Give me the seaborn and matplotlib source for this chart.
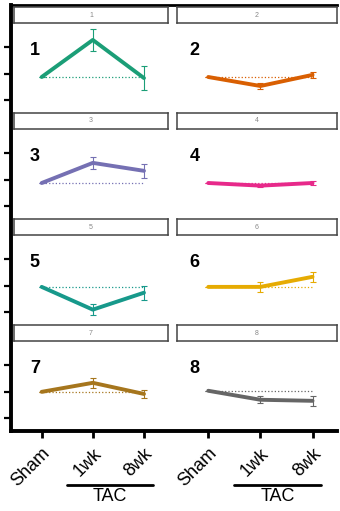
import numpy as np
import pandas as pd
import seaborn as sns
import matplotlib.pyplot as plt

# values relative to the middle y tick (= 1.0)
times = ["Sham", "1wk", "8wk"]
panel_ids = ["1", "2", "3", "4", "5", "6", "7", "8"]
means = [
    [0.94, 1.64, 0.92],
    [0.94, 0.77, 0.98],
    [0.94, 1.32, 1.17],
    [0.94, 0.89, 0.94],
    [0.98, 0.55, 0.87],
    [0.98, 0.98, 1.17],
    [1.00, 1.17, 0.96],
    [1.02, 0.85, 0.83],
]
errs = [
    [0.00, 0.21, 0.22],
    [0.00, 0.05, 0.06],
    [0.00, 0.12, 0.13],
    [0.00, 0.03, 0.03],
    [0.00, 0.10, 0.13],
    [0.00, 0.09, 0.09],
    [0.00, 0.09, 0.08],
    [0.00, 0.07, 0.09],
]
colors = ["#1b9e77", "#d95f02", "#7570b3", "#e7298a",
          "#17998b", "#e6ab02", "#a6761d", "#666666"]
yticks = [0.5, 1.0, 1.5]

rows = []
for pid, m, e in zip(panel_ids, means, errs):
    for t, v, s in zip(times, m, e):
        rows.append({"panel": pid, "time": t, "value": v, "err": s})
df = pd.DataFrame(rows)

sns.set_style("white")
plt.rcParams["font.family"] = ["Liberation Sans", "DejaVu Sans"]
plt.rcParams["text.color"] = "black"
plt.rcParams["xtick.color"] = "black"
plt.rcParams["ytick.color"] = "black"

W, H = 340, 511
fig = plt.figure(figsize=(W / 100, H / 100), dpi=100)


def rect(x0, y0, x1, y1):
    return [x0 / W, 1 - y1 / H, (x1 - x0) / W, (y1 - y0) / H]


# outer frame: thick left / bottom / top lines
bg = fig.add_axes(rect(11, 5, 337, 431))
bg.set_xticks([])
bg.set_yticks([])
bg.patch.set_alpha(0)
for side, sp in bg.spines.items():
    sp.set_color("black")
    sp.set_linewidth(2.8 if side != "top" else 2.0)
bg.spines["right"].set_visible(False)

col_x = [(11, 168), (177, 337)]
strip_x = [(14, 168), (177, 337)]

for i, pid in enumerate(panel_ids):
    r, c = divmod(i, 2)
    top = 7 + 106 * r
    sub = df[df.panel == pid]
    col = colors[i]

    sax = fig.add_axes(rect(strip_x[c][0], top, strip_x[c][1], top + 16))
    sax.set_xticks([])
    sax.set_yticks([])
    sax.set_facecolor("white")
    for sp in sax.spines.values():
        sp.set_color("#444444")
        sp.set_linewidth(1.1)
    sax.text(0.5, 0.5, pid, transform=sax.transAxes, ha="center",
             va="center", fontsize=5, color="#888888")

    ax = fig.add_axes(rect(col_x[c][0], top + 16, col_x[c][1], top + 106))
    ax.patch.set_alpha(0)
    sns.lineplot(data=sub, x="time", y="value", color=col, lw=2.8,
                 sort=False, errorbar=None, ax=ax)
    ax.errorbar(sub["time"], sub["value"], yerr=sub["err"], fmt="none",
                ecolor=col, elinewidth=0.8, capsize=2.2, capthick=0.8)
    base = sub["value"].iloc[0]
    ax.plot(times, [base] * len(times), ls=":", color=col, lw=0.9)

    ax.set_xlim(-0.6, 2.47)
    ax.set_ylim(0.26, 1.96)
    ax.set_xlabel("")
    ax.set_ylabel("")
    for sp in ax.spines.values():
        sp.set_visible(False)

    ax.text(0.12 if c == 0 else 0.08, 0.79, pid, transform=ax.transAxes,
            ha="left", va="top", fontsize=13, fontweight="bold",
            color="black")

    if c == 0:
        ax.set_yticks(yticks)
        ax.set_yticklabels([])
        ax.tick_params(axis="y", left=True, length=5, width=1.6,
                       color="black")
    else:
        ax.set_yticks([])

    if r == 3:
        ax.tick_params(axis="x", bottom=True, length=5, width=2,
                       color="black", labelcolor="black", labelsize=13,
                       pad=5)
        plt.setp(ax.get_xticklabels(), rotation=45, ha="right",
                 rotation_mode="anchor")
        tr = ax.get_xaxis_transform()
        ax.plot([0.5, 2.17], [-0.6, -0.6], color="black", lw=2,
                transform=tr, clip_on=False)
        ax.text(1.33, -0.73, "TAC", transform=tr, ha="center",
                va="center", fontsize=13, color="black")
    else:
        ax.set_xticks(range(len(times)))
        ax.set_xticklabels([])
        ax.tick_params(axis="x", bottom=False)

fig.savefig("out.png", dpi=100)
